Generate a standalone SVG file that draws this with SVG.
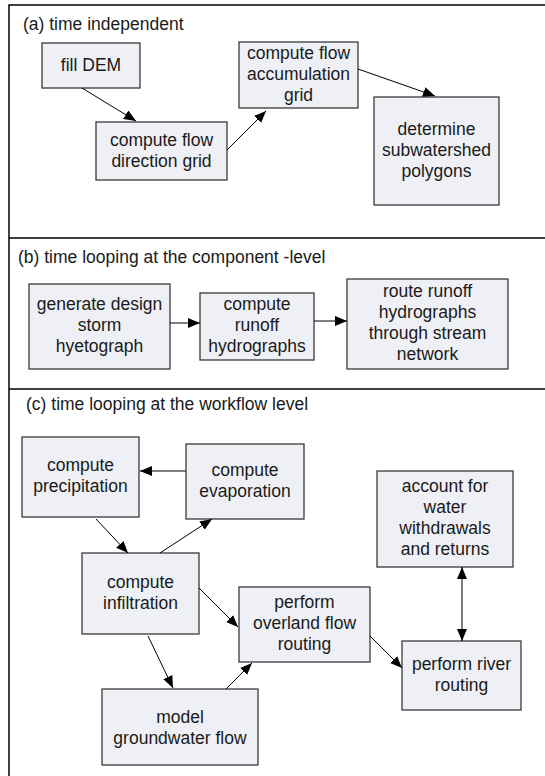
<svg xmlns="http://www.w3.org/2000/svg" width="545" height="776" viewBox="0 0 545 776">
<defs>
<marker id="ah" viewBox="0 0 12 10" refX="12" refY="5" markerWidth="12" markerHeight="10" markerUnits="userSpaceOnUse" orient="auto-start-reverse">
<path d="M0,0 L12,5 L0,10 z" fill="#000"/>
</marker>
</defs>
<style>
.frame{fill:none;stroke:#000;stroke-width:1.5}
.box{fill:#eef0f5;stroke:#3a3a3a;stroke-width:1.3}
text{font-family:"Liberation Sans",Arial,sans-serif;font-size:17.5px;fill:#1a1a1a}
.t{text-anchor:middle}
.c{fill:none;stroke:#000;stroke-width:1;marker-end:url(#ah)}
</style>
<g id="frame">
<path class="frame" d="M546,5 H9 V777"/>
<line class="frame" x1="9" y1="238" x2="546" y2="238"/>
<line class="frame" x1="9" y1="389" x2="546" y2="389"/>
<text x="23" y="30">(a) time independent</text>
<text x="18" y="263">(b) time looping at the component -level</text>
<text x="26" y="410">(c) time looping at the workflow level</text>
</g>
<g id="a1"><rect class="box" x="42" y="43" width="98" height="45"/><text class="t" x="91" y="71">fill DEM</text></g>
<g id="a2"><rect class="box" x="96" y="122" width="131" height="58"/><text class="t" x="161.5" y="145.5">compute flow</text><text class="t" x="161.5" y="166.5">direction grid</text></g>
<g id="a3"><rect class="box" x="239" y="42" width="119" height="66"/><text class="t" x="298.5" y="59">compute flow</text><text class="t" x="298.5" y="80">accumulation</text><text class="t" x="298.5" y="101">grid</text></g>
<g id="a4"><rect class="box" x="374" y="97" width="125" height="108"/><text class="t" x="436.5" y="135">determine</text><text class="t" x="436.5" y="156">subwatershed</text><text class="t" x="436.5" y="177">polygons</text></g>
<g id="b1"><rect class="box" x="29" y="284" width="141" height="85"/><text class="t" x="99.5" y="310">generate design</text><text class="t" x="99.5" y="331">storm</text><text class="t" x="99.5" y="352">hyetograph</text></g>
<g id="b2"><rect class="box" x="200" y="293" width="114" height="67"/><text class="t" x="257" y="310">compute</text><text class="t" x="257" y="331">runoff</text><text class="t" x="257" y="352">hydrographs</text></g>
<g id="b3"><rect class="box" x="347" y="279" width="161" height="90"/><text class="t" x="427.5" y="297">route runoff</text><text class="t" x="427.5" y="318">hydrographs</text><text class="t" x="427.5" y="339">through stream</text><text class="t" x="427.5" y="360">network</text></g>
<g id="c1"><rect class="box" x="22" y="437" width="117" height="80"/><text class="t" x="80.5" y="471">compute</text><text class="t" x="80.5" y="492">precipitation</text></g>
<g id="c2"><rect class="box" x="186" y="444" width="118" height="75"/><text class="t" x="245" y="476">compute</text><text class="t" x="245" y="497">evaporation</text></g>
<g id="c3"><rect class="box" x="377" y="471" width="136" height="96"/><text class="t" x="445" y="492">account for</text><text class="t" x="445" y="513">water</text><text class="t" x="445" y="534">withdrawals</text><text class="t" x="445" y="555">and returns</text></g>
<g id="c4"><rect class="box" x="82" y="553" width="117" height="81"/><text class="t" x="140.5" y="588">compute</text><text class="t" x="140.5" y="609">infiltration</text></g>
<g id="c5"><rect class="box" x="239" y="587" width="131" height="75"/><text class="t" x="304.5" y="608">perform</text><text class="t" x="304.5" y="629">overland flow</text><text class="t" x="304.5" y="650">routing</text></g>
<g id="c6"><rect class="box" x="402" y="641" width="119" height="69"/><text class="t" x="461.5" y="670">perform river</text><text class="t" x="461.5" y="691">routing</text></g>
<g id="c7"><rect class="box" x="102" y="689" width="156" height="76"/><text class="t" x="180" y="723">model</text><text class="t" x="180" y="744">groundwater flow</text></g>
<g id="connectors">
<line class="c" x1="82" y1="88" x2="136" y2="121"/>
<line class="c" x1="227" y1="150" x2="266" y2="111"/>
<line class="c" x1="358" y1="69" x2="435" y2="96"/>
<line class="c" x1="170" y1="323" x2="200" y2="323"/>
<line class="c" x1="314" y1="321" x2="347" y2="321"/>
<line class="c" x1="186" y1="471" x2="140" y2="471"/>
<line class="c" x1="96" y1="519" x2="128" y2="553"/>
<line class="c" x1="160" y1="553" x2="212" y2="519"/>
<line class="c" x1="199" y1="588" x2="238" y2="627"/>
<line class="c" x1="148" y1="636" x2="173" y2="688"/>
<line class="c" x1="226" y1="689" x2="252" y2="663"/>
<line class="c" x1="370" y1="636" x2="402" y2="668"/>
<line class="c" x1="462" y1="567" x2="462" y2="641" marker-start="url(#ah)"/>
</g>
</svg>
